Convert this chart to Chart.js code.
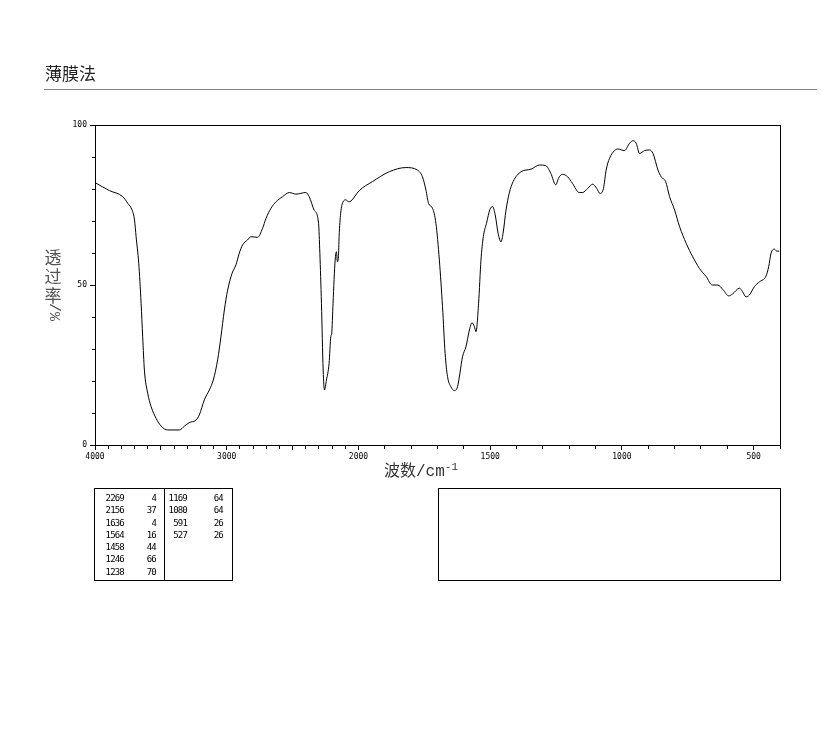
<!DOCTYPE html>
<html>
<head>
<meta charset="utf-8">
<script src="https://cdn.jsdelivr.net/npm/chart.js@4/dist/chart.umd.min.js"></script>
<style>
  html, body { margin: 0; padding: 0; background: #fff; }
  #page { position: relative; width: 822px; height: 737px; overflow: hidden; }
  #irChart { position: absolute; left: 0; top: 0; }
  .title { position: absolute; left: 45px; top: 64px; font: 17px/17px "Noto Sans CJK SC"; color: #222; }
  .rule { position: absolute; left: 44px; top: 89px; width: 773px; height: 1px; background: #808080; }
  .xtitle { position: absolute; left: 384px; top: 459px; font: 16px/16px "Liberation Mono", "Noto Sans CJK SC"; color: #333; white-space: nowrap; }
  .xtitle .cjk { font-family: "Noto Sans CJK SC"; }
  .xtitle sup { font-size: 11px; vertical-align: 6px; }
  .ytitle { position: absolute; left: 44px; top: 247px; width: 18px; font: 17px/19px "Noto Sans CJK SC"; color: #555; text-align: center; }
  .ytitle .rot { display: block; height: 16px; line-height: 16px; font-family: "Liberation Mono"; font-size: 15px; transform: rotate(90deg); }
  .box { position: absolute; border: 1px solid #000; box-sizing: border-box; }
  .vline { position: absolute; background: #000; width: 1px; }
  .col { position: absolute; text-align: right; font: 9px/12.3px "DejaVu Sans Mono"; letter-spacing: -0.8px; color: #000; white-space: pre; }
</style>
</head>
<body>
<div id="page">
  <canvas id="irChart" width="822" height="737"></canvas>
  <div class="title">薄膜法</div>
  <div class="rule"></div>
  <div class="xtitle"><span class="cjk">波数</span>/cm<sup>-1</sup></div>
  <div class="ytitle">透<br>过<br>率<span class="rot">/%</span></div>
  <div class="box" style="left:94px; top:488px; width:139px; height:93px;"></div>
  <div class="vline" style="left:164px; top:488px; height:93px;"></div>
  <div class="box" style="left:438px; top:488px; width:343px; height:93px;"></div>
  <div id="peakTable"></div>
</div>
<script>
// spectrum (wavenumber cm-1 / transmittance %)
const wavenumbers = [
  4000, 3890, 3789, 3751, 3718, 3700, 3688, 3668, 3650, 3638, 3625, 3600, 3574, 3536, 3498, 3448,
  3359, 3321, 3284, 3233, 3208, 3170, 3132, 3102, 3069, 3044, 3018, 2993, 2960, 2930, 2905, 2880,
  2842, 2816, 2766, 2728, 2702, 2664, 2626, 2576, 2525, 2475, 2399, 2374, 2336, 2303, 2293, 2281,
  2268, 2258, 2243, 2223, 2210, 2203, 2193, 2177, 2167, 2160, 2152, 2147, 2135, 2117, 2097, 2072,
  2058, 1997, 1947, 1883, 1820, 1776, 1757, 1744, 1734, 1719, 1706, 1693, 1681, 1671, 1662, 1649,
  1636, 1624, 1615, 1605, 1592, 1579, 1569, 1560, 1554, 1544, 1535, 1526, 1514, 1501, 1491, 1481,
  1470, 1459, 1451, 1440, 1428, 1413, 1383, 1345, 1313, 1289, 1270, 1251, 1240, 1225, 1206, 1188,
  1162, 1149, 1130, 1111, 1096, 1083, 1070, 1060, 1047, 1028, 1016, 990, 971, 958, 946, 933,
  914, 895, 882, 863, 851, 834, 819, 800, 781, 756, 731, 706, 680, 657, 636, 617,
  595, 580, 554, 542, 529, 516, 497, 478, 453, 443, 434, 421, 413, 403
];
const transmittance = [
  82.0, 79.5, 77.6, 75.5, 73.4, 70.3, 65.1, 56.8, 44.3, 33.8, 23.4, 16.2, 12.0, 8.3, 5.9, 4.7,
  4.7, 5.9, 7.0, 7.8, 9.4, 14.1, 17.2, 20.3, 26.6, 33.8, 42.2, 48.4, 53.6, 56.3, 59.9, 62.5,
  64.1, 65.1, 64.9, 67.7, 70.8, 74.0, 76.0, 77.6, 78.9, 78.4, 78.9, 77.6, 73.4, 69.3, 59.9, 44.3,
  23.4, 17.2, 20.3, 25.5, 33.8, 34.9, 44.3, 57.8, 60.4, 57.3, 58.8, 65.1, 72.4, 76.0, 76.6, 76.0,
  76.2, 79.5, 82.3, 85.4, 86.7, 85.9, 83.8, 79.7, 75.5, 74.0, 69.3, 57.8, 43.2, 28.6, 21.4, 18.2,
  17.0, 18.2, 22.4, 27.6, 30.7, 35.9, 38.2, 37.0, 35.4, 44.3, 57.8, 65.1, 69.3, 73.6, 74.5, 71.9,
  66.2, 63.5, 66.2, 73.4, 78.6, 82.3, 85.4, 86.2, 87.5, 87.3, 84.9, 81.3, 83.5, 84.6, 83.8, 81.8,
  78.9, 78.9, 80.2, 81.5, 80.2, 78.6, 80.2, 85.9, 89.6, 92.0, 92.5, 92.0, 94.3, 95.1, 94.3, 91.1,
  92.0, 92.2, 91.1, 85.9, 83.8, 82.3, 77.6, 73.4, 68.2, 63.0, 58.8, 55.2, 52.6, 50.0, 50.0, 48.6,
  46.6, 47.2, 49.0, 47.9, 46.3, 46.9, 49.5, 51.0, 52.8, 55.7, 59.9, 61.2, 60.6, 60.6
];

// axis labels
const waveLabels = [4000, 3000, 2000, 1500, 1000, 500];
const transLabels = [0, 50, 100];

// peak table
const peakWave = ['2269', '2156', '1636', '1564', '1458', '1246', '1238', '1169', '1080', '591', '527'];
const peakValue = ['4', '37', '4', '16', '44', '66', '70', '64', '64', '26', '26'];

// 4000-2000 is drawn at half the scale of 2000-400
function toAxis(wn) { return wn >= 2000 ? (4000 - wn) / 2 : 1000 + (2000 - wn); }
function fromAxis(v) { return v <= 1000 ? 4000 - v * 2 : 2000 - (v - 1000); }

function buildTable() {
  const cols = [
    { items: peakWave.slice(0, 7), right: 124 },
    { items: peakValue.slice(0, 7), right: 156 },
    { items: peakWave.slice(7), right: 187 },
    { items: peakValue.slice(7), right: 223 }
  ];
  const host = document.getElementById('peakTable');
  cols.forEach(c => {
    const d = document.createElement('div');
    d.className = 'col';
    d.style.left = (c.right - 40) + 'px';
    d.style.width = '40px';
    d.style.top = '492px';
    d.textContent = c.items.join('\n');
    host.appendChild(d);
  });
}
buildTable();

const tickFont = { family: 'DejaVu Sans Mono', size: 8 };

new Chart(document.getElementById('irChart').getContext('2d'), {
  type: 'line',
  data: {
    datasets: [{
      data: wavenumbers.map((wn, i) => ({ x: toAxis(wn), y: transmittance[i] })),
      borderColor: '#000',
      borderWidth: 1,
      pointRadius: 0,
      cubicInterpolationMode: 'monotone',
      fill: false
    }]
  },
  options: {
    responsive: false,
    animation: false,
    devicePixelRatio: 1,
    layout: { padding: { left: 55, right: 42, top: 125, bottom: 262 } },
    plugins: { legend: { display: false }, tooltip: { enabled: false } },
    scales: {
      x: {
        type: 'linear',
        position: 'bottom',
        min: 0,
        max: toAxis(400),
        afterFit: (scale) => { scale.height = 30; },
        afterBuildTicks: (scale) => {
          const t = [];
          for (let wn = 4000; wn >= 400; wn -= 100) t.push({ value: toAxis(wn) });
          scale.ticks = t;
        },
        border: { display: true, color: '#000', width: 1 },
        grid: {
          drawOnChartArea: false,
          color: '#000',
          tickLength: 5,
          tickBorderDash: (ctx) => {
            if (!ctx.tick) return [];
            const wn = Math.round(fromAxis(ctx.tick.value));
            return wn % 500 === 0 ? [] : [3, 20];
          }
        },
        ticks: {
          autoSkip: false,
          maxRotation: 0,
          minRotation: 0,
          padding: 2,
          color: '#000',
          font: tickFont,
          callback: (v) => {
            const wn = Math.round(fromAxis(v));
            return waveLabels.includes(wn) ? String(wn) : '';
          }
        }
      },
      y: {
        type: 'linear',
        position: 'left',
        min: 0,
        max: 100,
        afterFit: (scale) => { scale.width = 40; },
        border: { display: true, color: '#000', width: 1 },
        grid: {
          drawOnChartArea: false,
          color: '#000',
          tickLength: 5,
          tickBorderDash: (ctx) => {
            if (!ctx.tick) return [];
            return transLabels.includes(ctx.tick.value) ? [] : [0, 2, 3, 20];
          }
        },
        ticks: {
          stepSize: 10,
          padding: 3,
          color: '#000',
          font: tickFont,
          callback: (v) => transLabels.includes(v) ? String(v) : ''
        }
      },
      x2: {
        type: 'linear',
        position: 'top',
        min: 0,
        max: 1,
        afterFit: (scale) => { scale.height = 0; },
        border: { display: true, color: '#000', width: 1 },
        grid: { display: false },
        ticks: { display: false }
      },
      y2: {
        type: 'linear',
        position: 'right',
        min: 0,
        max: 1,
        afterFit: (scale) => { scale.width = 0; },
        border: { display: true, color: '#000', width: 1 },
        grid: { display: false },
        ticks: { display: false }
      }
    }
  }
});
</script>
</body>
</html>
